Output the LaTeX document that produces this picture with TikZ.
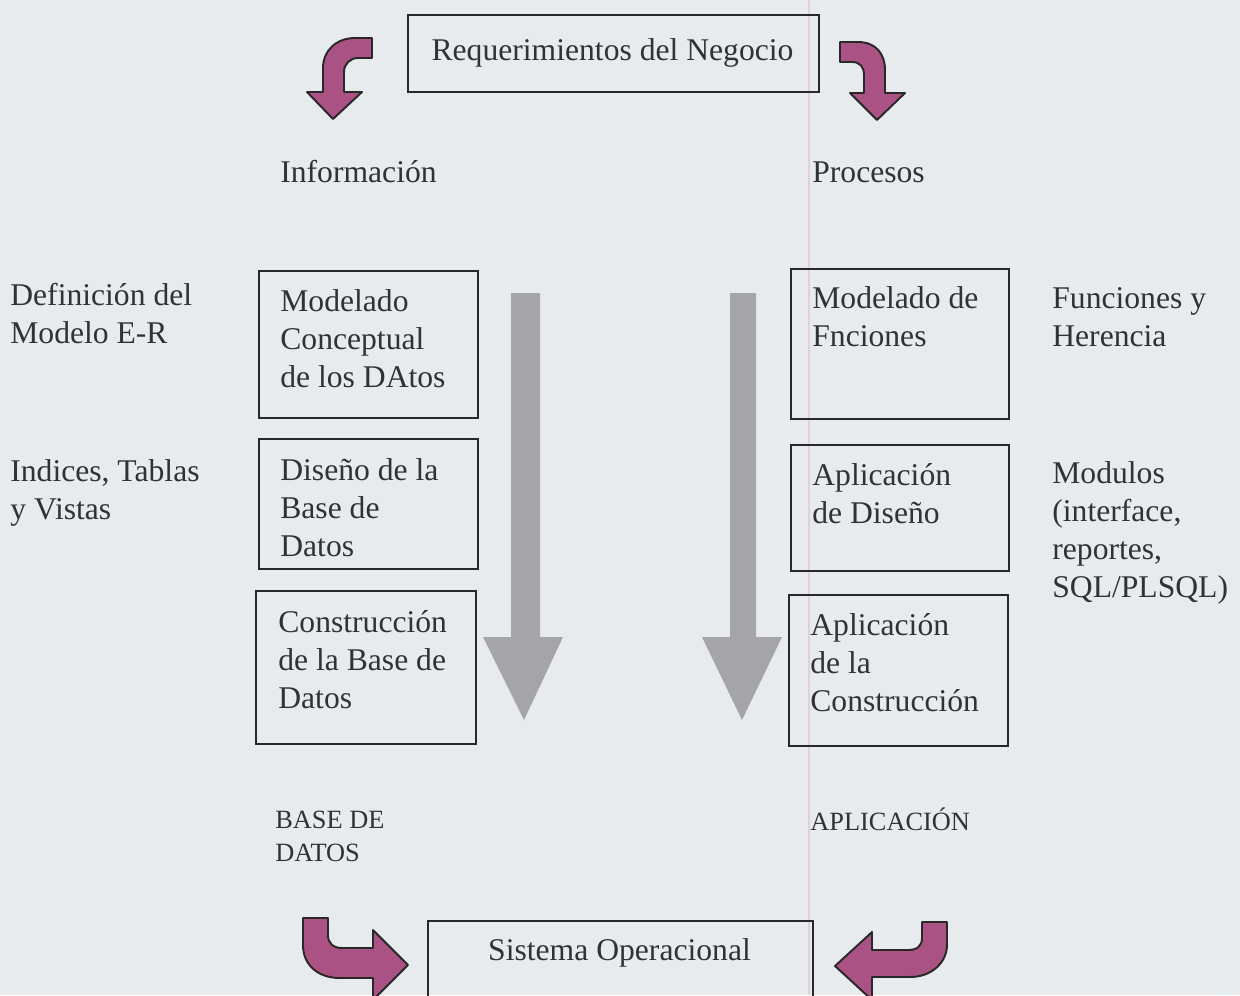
\documentclass[tikz,border=0pt]{standalone}
\usepackage{fontspec}
\setmainfont{Liberation Serif}
\definecolor{bgc}{RGB}{232,235,238}
\definecolor{txt}{RGB}{50,50,50}
\definecolor{edge}{RGB}{40,40,40}
\definecolor{magf}{RGB}{170,82,132}
\definecolor{grayarrow}{RGB}{165,165,168}
\definecolor{scanline}{RGB}{224,206,226}
\begin{document}
\begin{tikzpicture}[x=0.02cm,y=-0.02cm,
  boxst/.style={draw=edge, line width=1.1pt, inner sep=0pt, anchor=north west},
  lbl/.style={text=txt, inner sep=0pt, anchor=base west, align=left, font=\fontsize{18}{21.6}\selectfont},
  smalllbl/.style={text=txt, inner sep=0pt, anchor=base west, align=left, font=\fontsize{15}{18.7}\selectfont},
  curved/.style={fill=magf, draw=edge, line width=1.1pt, line join=round},
  bigarrow/.style={fill=grayarrow}
]
\fill[bgc] (0,0) rectangle (1240,995);
\useasboundingbox (0,0) rectangle (1240,995);
\clip (0,0) rectangle (1240,995);
\draw[scanline, line width=1.2pt] (809,0) -- (809,995);
\draw[white!85!cyan, line width=1pt, opacity=0.6] (1228,0) -- (1228,995);

% boxes
\node[boxst, minimum width=8.22cm, minimum height=1.54cm] (req) at (407,14) {};
\node[boxst, minimum width=4.38cm, minimum height=2.94cm] (l1) at (258,270) {};
\node[boxst, minimum width=4.38cm, minimum height=2.60cm] (l2) at (258,438) {};
\node[boxst, minimum width=4.40cm, minimum height=3.06cm] (l3) at (255,590) {};
\node[boxst, minimum width=4.36cm, minimum height=3.00cm] (r1) at (790,268) {};
\node[boxst, minimum width=4.36cm, minimum height=2.52cm] (r2) at (790,444) {};
\node[boxst, minimum width=4.38cm, minimum height=3.02cm] (r3) at (788,594) {};
\node[boxst, minimum width=7.70cm, minimum height=1.70cm] (sis) at (427,920) {};

% texts (base anchor = baseline of the last line)
\node[lbl, anchor=base] (treq) at (612.5,60) {Requerimientos del Negocio};
\node[lbl] (tinfo) at (280,182) {Información};
\node[lbl] (tproc) at (812,182) {Procesos};
\node[lbl] (tdef) at (10,343) {Definición del\\Modelo E-R};
\node[lbl] (tind) at (10,519) {Indices, Tablas\\y Vistas};
\node[lbl] (tl1) at (280,387) {Modelado\\Conceptual\\de los DAtos};
\node[lbl] (tl2) at (280,556) {Diseño de la\\Base de\\Datos};
\node[lbl] (tl3) at (278,708) {Construcción\\de la Base de\\Datos};
\node[lbl] (tr1) at (812,346) {Modelado de\\Fnciones};
\node[lbl] (tr2) at (812,523) {Aplicación\\de Diseño};
\node[lbl] (tr3) at (810,711) {Aplicación\\de la\\Construcción};
\node[lbl] (tfun) at (1052,346) {Funciones y\\Herencia};
\node[lbl] (tmod) at (1052,597) {Modulos\\(interface,\\reportes,\\SQL/PLSQL)};
\node[smalllbl] (tbd) at (275,861) {BASE DE\\DATOS};
\node[smalllbl] (tapp) at (810,830) {APLICACIÓN};
\node[lbl, anchor=base] (tsis) at (619.5,960) {Sistema Operacional};

% gray down arrows
\fill[bigarrow] (511,293) -- (540,293) -- (540,637) -- (563,637) -- (524,720) -- (483,637) -- (511,637) -- cycle;
\fill[bigarrow] (730,293) -- (756,293) -- (756,637) -- (782,637) -- (742,720) -- (702,637) -- (730,637) -- cycle;

% curved magenta arrows
\draw[curved] (372,38) -- (355,38) .. controls (337,38) and (323,50) .. (323,68) -- (323,92) -- (307,92) -- (333,119) -- (362,92) -- (344,92) -- (344,72) .. controls (344,64) and (350,58) .. (358,58) -- (372,58) -- cycle;
\draw[curved] (840,42) -- (858,42) .. controls (876,42) and (885,54) .. (885,70) -- (885,93) -- (905,93) -- (877,120) -- (850,93) -- (864,93) -- (864,75) .. controls (864,67) and (860,62) .. (852,62) -- (840,62) -- cycle;
\draw[curved] (303,918) -- (328,918) -- (328,935) .. controls (328,943) and (333,948) .. (342,948) -- (373,948) -- (373,930) -- (408,965) -- (373,1000) -- (373,978) -- (340,978) .. controls (318,978) and (303,965) .. (303,945) -- cycle;
\draw[curved] (947,922) -- (922,922) -- (922,938) .. controls (922,946) and (917,950) .. (908,950) -- (872,950) -- (872,932) -- (835,966) -- (872,1000) -- (872,977) -- (910,977) .. controls (932,977) and (947,962) .. (947,945) -- cycle;
\end{tikzpicture}
\end{document}
